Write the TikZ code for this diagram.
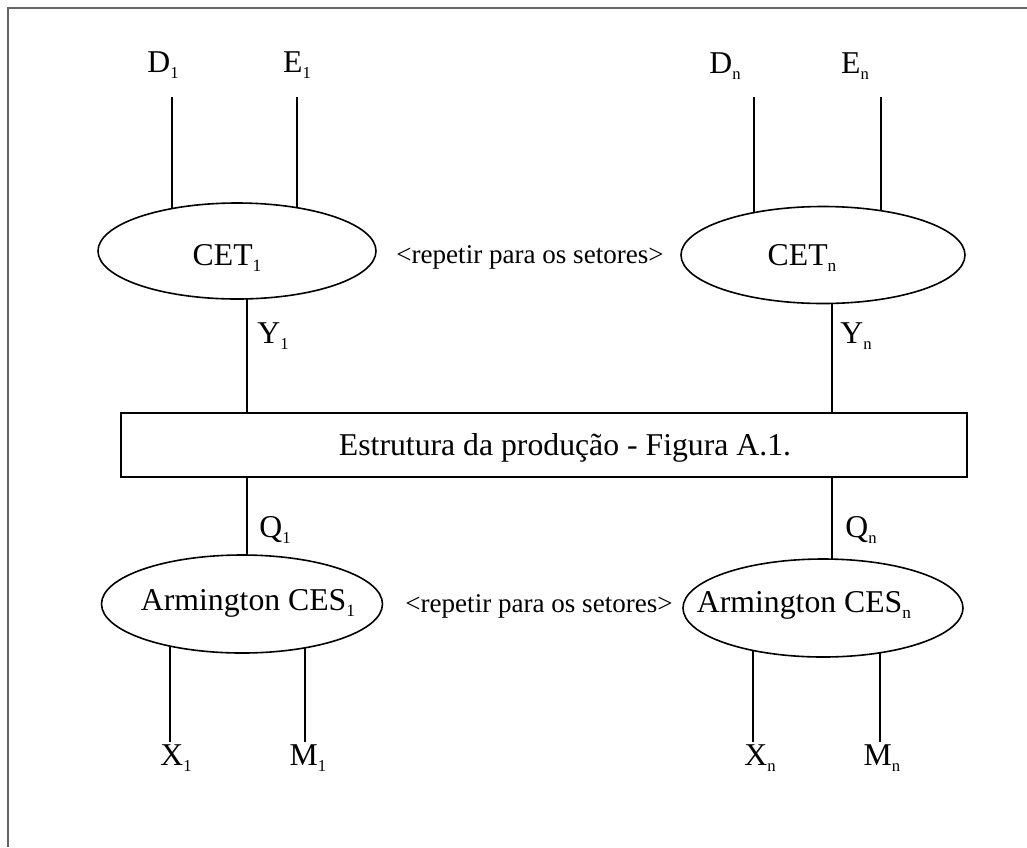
\documentclass[tikz,border=0pt]{standalone}
\usepackage{fontspec}
\setmainfont{Liberation Serif}
\usetikzlibrary{shapes.geometric}
\pgfdeclarelayer{bg}
\pgfsetlayers{bg,main}
\newcommand{\sbo}[1]{\raisebox{-4.5pt}{\fontsize{12.5}{12.5}\selectfont #1}}
\newcommand{\sbi}[1]{\raisebox{-4.5pt}{\fontsize{13}{13}\selectfont #1}}
\begin{document}
\begin{tikzpicture}[x=0.75pt,y=-0.75pt,
  lbl/.style={font=\fontsize{23.8}{28}\selectfont, inner sep=0pt, anchor=base},
  note/.style={font=\fontsize{20.3}{24}\selectfont, inner sep=0pt, anchor=base},
  ell/.style={draw, ellipse, line width=1.2pt, fill=white, inner sep=0pt},
  boxst/.style={draw, rectangle, line width=1.1pt, inner sep=0pt},
  conn/.style={line width=1.1pt},
  frame/.style={line width=1.8pt, black!60}]
\useasboundingbox (0,0) rectangle (1027,847);
% outer frame (top and left sides)
\draw[frame] (1027,8) -- (8,8) -- (8,847);

% shapes
\node[ell, minimum width=208.5pt, minimum height=72pt] (cet1) at (237,251) {};
\node[ell, minimum width=213pt, minimum height=72.75pt] (cetn) at (823,255) {};
\node[ell, minimum width=210.75pt, minimum height=73.5pt] (ces1) at (242,604) {};
\node[ell, minimum width=210pt, minimum height=73.5pt] (cesn) at (823,608) {};
\node[boxst, minimum width=634.5pt, minimum height=48pt] (prod) at (544,445) {};

% texts in shapes
\node[lbl] (cet1t) at (227,265) {CET\sbi{1}};
\node[lbl] (cetnt) at (802,265) {CET\sbi{n}};
\node[lbl] (ces1t) at (248,610) {Armington CES\sbi{1}};
\node[lbl] (cesnt) at (804,612) {Armington CES\sbi{n}};
\node[lbl] (prodt) at (565,455) {Estrutura da produção - Figura A.1.};
\node[note] (rep1) at (530,263) {<repetir para os setores>};
\node[note] (rep2) at (539,612) {<repetir para os setores>};

% variable labels
\node[lbl] (D1) at (163,72) {D\sbo{1}};
\node[lbl] (E1) at (297,72) {E\sbo{1}};
\node[lbl] (Dn) at (725,73) {D\sbo{n}};
\node[lbl] (En) at (855,73) {E\sbo{n}};
\node[lbl] (Y1) at (273,343) {Y\sbo{1}};
\node[lbl] (Yn) at (856,343) {Y\sbo{n}};
\node[lbl] (Q1) at (275,537) {Q\sbo{1}};
\node[lbl] (Qn) at (861,537) {Q\sbo{n}};
\node[lbl] (X1) at (176,765) {X\sbo{1}};
\node[lbl] (M1) at (308,765) {M\sbo{1}};
\node[lbl] (Xn) at (760,765) {X\sbo{n}};
\node[lbl] (Mn) at (882,765) {M\sbo{n}};

% connector end points
\coordinate (d1top) at (172,97);
\coordinate (e1top) at (297,97);
\coordinate (dntop) at (754,97);
\coordinate (entop) at (881,97);
\coordinate (c1) at (247,0);
\coordinate (cn) at (832,0);
\coordinate (x1bot) at (170,742);
\coordinate (m1bot) at (305,742);
\coordinate (xnbot) at (753,742);
\coordinate (mnbot) at (880,742);

\begin{pgfonlayer}{bg}
\draw[conn] (d1top) -- (d1top |- cet1.center);
\draw[conn] (e1top) -- (e1top |- cet1.center);
\draw[conn] (dntop) -- (dntop |- cetn.center);
\draw[conn] (entop) -- (entop |- cetn.center);
\draw[conn] (c1 |- cet1.center) -- (c1 |- prod.north);
\draw[conn] (cn |- cetn.center) -- (cn |- prod.north);
\draw[conn] (c1 |- prod.south) -- (c1 |- ces1.center);
\draw[conn] (cn |- prod.south) -- (cn |- cesn.center);
\draw[conn] (x1bot |- ces1.center) -- (x1bot);
\draw[conn] (m1bot |- ces1.center) -- (m1bot);
\draw[conn] (xnbot |- cesn.center) -- (xnbot);
\draw[conn] (mnbot |- cesn.center) -- (mnbot);
\end{pgfonlayer}
\end{tikzpicture}
\end{document}
